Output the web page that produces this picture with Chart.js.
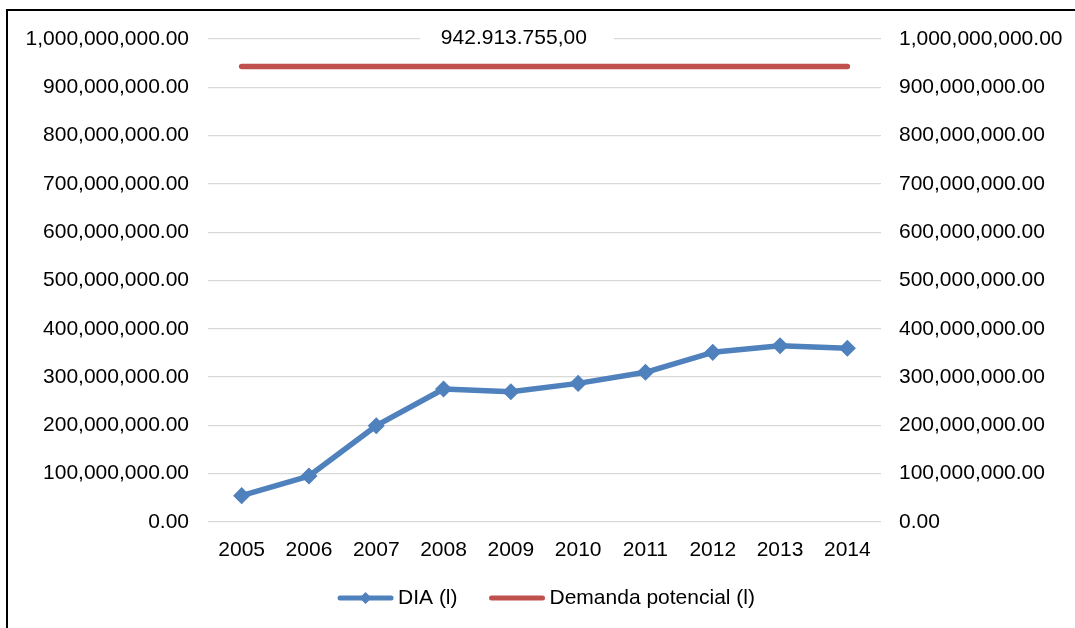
<!DOCTYPE html>
<html>
<head>
<meta charset="utf-8">
<title>DIA x Demanda potencial</title>
<script src="https://cdn.jsdelivr.net/npm/chart.js@4.4.0/dist/chart.umd.min.js"></script>
<style>
  body { margin: 0; background: #fff; }
  #wrap { width: 1075px; height: 628px; position: relative; }
</style>
</head>
<body>
<div id="wrap"><canvas id="demandChart"></canvas></div>
<script>
const years = ['2005', '2006', '2007', '2008', '2009', '2010', '2011', '2012', '2013', '2014'];
const diaLitres = [54500000, 95200000, 199400000, 275400000, 269800000, 287000000, 310000000, 351300000, 365000000, 359600000];
const demandaLitres = [942913755, 942913755, 942913755, 942913755, 942913755, 942913755, 942913755, 942913755, 942913755, 942913755];
const labelIndex = 4; // the value label sits over the 2009 point

const FONT = '"Liberation Sans", Arial, sans-serif';
const BLUE = '#4F81BD';
const RED = '#C0504D';

// 1234.5 -> "1,234.50" or "1.234,50"
function fmt(v, thou, dec) {
  const parts = Math.abs(v).toFixed(2).split('.');
  const int = parts[0].replace(/\B(?=(\d{3})+(?!\d))/g, thou);
  return (v < 0 ? '-' : '') + int + dec + parts[1];
}

const frame = {
  id: 'frame',
  beforeDraw(chart) {
    const ctx = chart.ctx;
    ctx.save();
    ctx.fillStyle = '#fff';
    ctx.fillRect(0, 0, chart.width, chart.height);
    ctx.strokeStyle = '#000';
    ctx.lineWidth = 2;
    ctx.strokeRect(7, 10, chart.width + 20, chart.height + 20);
    ctx.restore();
  }
};

const valueLabel = {
  id: 'valueLabel',
  afterDatasetsDraw(chart) {
    const pt = chart.getDatasetMeta(1).data[labelIndex];
    const text = fmt(demandaLitres[labelIndex], '.', ',');
    const ctx = chart.ctx;
    ctx.save();
    ctx.font = '21px ' + FONT;
    const w = ctx.measureText(text).width;
    const cx = pt.x + 3;
    const cy = pt.y - 28;
    ctx.fillStyle = '#fff';
    ctx.fillRect(cx - w / 2 - 21, cy - 13, w + 48, 26);
    ctx.fillStyle = '#000';
    ctx.textAlign = 'center';
    ctx.textBaseline = 'middle';
    ctx.fillText(text, cx, cy);
    ctx.restore();
  }
};

// legend: line sample (with diamond for DIA) followed by label
const lineLegend = {
  id: 'lineLegend',
  afterDraw(chart) {
    const ctx = chart.ctx;
    const sampleW = 55, gapText = 5, gapItem = 32, y = 598;
    ctx.save();
    ctx.font = '21px ' + FONT;
    const items = chart.data.datasets.map(ds => ({ ds, w: ctx.measureText(ds.label).width }));
    const total = items.reduce((s, it) => s + sampleW + gapText + it.w, 0) + gapItem * (items.length - 1);
    let x = (chart.chartArea.left + chart.chartArea.right) / 2 + 2 - total / 2;
    items.forEach(({ ds, w }) => {
      ctx.strokeStyle = ds.borderColor;
      ctx.lineWidth = 5;
      ctx.lineCap = 'round';
      ctx.beginPath();
      ctx.moveTo(x + 2, y);
      ctx.lineTo(x + sampleW - 2, y);
      ctx.stroke();
      if (ds.pointRadius > 0) {
        const mx = x + sampleW / 2;
        ctx.fillStyle = ds.borderColor;
        ctx.beginPath();
        ctx.moveTo(mx, y - 6);
        ctx.lineTo(mx + 6, y);
        ctx.lineTo(mx, y + 6);
        ctx.lineTo(mx - 6, y);
        ctx.closePath();
        ctx.fill();
      }
      ctx.fillStyle = '#000';
      ctx.textAlign = 'left';
      ctx.textBaseline = 'middle';
      ctx.fillText(ds.label, x + sampleW + gapText, y);
      x += sampleW + gapText + w + gapItem;
    });
    ctx.restore();
  }
};

const tickFont = { family: FONT, size: 21 };

new Chart(document.getElementById('demandChart'), {
  type: 'line',
  data: {
    labels: years,
    datasets: [{
      label: 'DIA (l)',
      data: diaLitres,
      yAxisID: 'y',
      borderColor: BLUE,
      backgroundColor: BLUE,
      borderWidth: 5.5,
      borderCapStyle: 'round',
      borderJoinStyle: 'round',
      pointStyle: 'rectRot',
      pointRadius: 7.5,
      pointHoverRadius: 7.5,
      pointBackgroundColor: BLUE,
      pointBorderColor: BLUE,
      pointBorderWidth: 1.5,
      tension: 0
    }, {
      label: 'Demanda potencial (l)',
      data: demandaLitres,
      yAxisID: 'y2',
      borderColor: RED,
      backgroundColor: RED,
      borderWidth: 5.5,
      borderCapStyle: 'round',
      pointRadius: 0,
      pointHoverRadius: 0,
      tension: 0
    }]
  },
  options: {
    responsive: true,
    maintainAspectRatio: false,
    animation: false,
    layout: { padding: { top: 39, left: 0, right: 0, bottom: 0 } },
    plugins: {
      legend: { display: false },
      tooltip: { enabled: false }
    },
    scales: {
      x: {
        offset: true,
        grid: { display: false, drawTicks: false },
        border: { display: false },
        ticks: { color: '#000', font: tickFont, padding: 16, maxRotation: 0, autoSkip: false },
        afterFit(scale) { scale.height = 106; }
      },
      y: {
        position: 'left',
        min: 0,
        max: 1000000000,
        grid: { color: '#D9D9D9', lineWidth: 1.3, drawTicks: false },
        border: { display: false },
        ticks: {
          stepSize: 100000000,
          color: '#000',
          font: tickFont,
          padding: 19,
          callback: v => fmt(v, ',', '.')
        },
        afterFit(scale) { scale.width = 208; }
      },
      y2: {
        position: 'right',
        min: 0,
        max: 1000000000,
        grid: { display: false, drawTicks: false },
        border: { display: false },
        ticks: {
          stepSize: 100000000,
          color: '#000',
          font: tickFont,
          padding: 18,
          callback: v => fmt(v, ',', '.')
        },
        afterFit(scale) { scale.width = 194; }
      }
    }
  },
  plugins: [frame, valueLabel, lineLegend]
});
</script>
</body>
</html>
